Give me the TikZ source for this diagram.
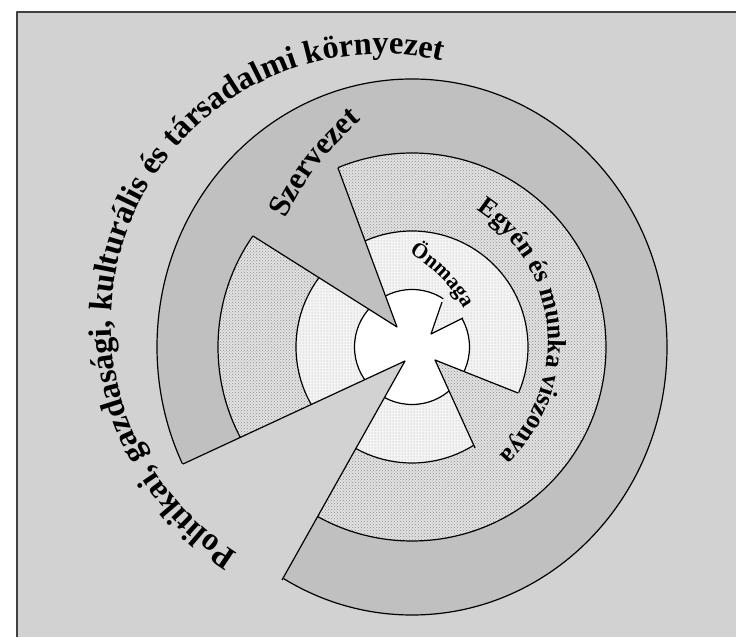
\documentclass[tikz,border=0pt]{standalone}
\usepackage{fontspec}
\setmainfont{Liberation Serif}
\usepackage{xcolor}
\definecolor{bgdots}{HTML}{D2D2D2}
\definecolor{outring}{HTML}{C0C0C0}
\definecolor{midring}{HTML}{E2E2E2}
\definecolor{middots}{HTML}{8C8C8C}
\definecolor{inring}{HTML}{F4F4F4}
\definecolor{indots}{HTML}{A8A8A8}
\definecolor{frameline}{HTML}{404040}
\usepackage{tikz}
\usetikzlibrary{decorations.text,patterns}

\begin{document}
\begin{tikzpicture}[x=1pt,y=1pt,line width=1.2pt,line join=round]
    \tikzstyle{rim}=[draw=black]
    \tikzstyle{midfill}=[preaction={fill=midring},pattern=crosshatch dots,pattern color=middots]
    \tikzstyle{infill}=[preaction={fill=inring},pattern=dots,pattern color=indots]
    \tikzstyle{bigtext}=[decorate,decoration={text along path,text color=black}]

    \useasboundingbox (0,0) rectangle (736,637);
    \fill[white] (0,0) rectangle (736,637);
    \fill[bgdots] (17,0) rectangle (736,625);
    \draw[frameline,line width=2pt] (17,0) -- (17,625) -- (736,625);

    \coordinate (O) at (412,290);
    \filldraw[fill=outring,rim] (O) ellipse [x radius=255,y radius=268];
    \path[midfill,rim] (O) circle [radius=194];
    \path[infill,rim] (O) circle [radius=116];
    \filldraw[fill=white,rim] (O) circle [radius=57.5];

    \coordinate (tipA) at (397,310);
    \coordinate (a1) at (338,469);
    \coordinate (a2) at (253,401);
    \coordinate (tipB) at (405,276);
    \coordinate (b1) at (183,173);
    \coordinate (b2) at (282,57);
    \coordinate (tipC) at (431,303);
    \coordinate (c1) at (463,319);
    \coordinate (c2) at (442,335);
    \coordinate (tipD) at (435,277);
    \coordinate (d1) at (518,244);
    \coordinate (d2) at (475,189);

    \fill[outring] (tipA) -- (332,485) -- (239,410) -- cycle;
    \fill[bgdots] (tipB) -- (150,158) -- (264,24) -- cycle;
    \path[infill] (tipC) -- (482,329) -- (449,354) -- cycle;
    \path[midfill] (tipD) -- (532,239) -- (483,171) -- cycle;

    \draw (a1) -- (tipA) -- (a2);
    \draw (b1) -- (tipB) -- (b2);
    \draw (c1) -- (tipC) -- (c2);
    \draw (d1) -- (tipD) -- (d2);

    \path[bigtext,decoration={text={|\bfseries\fontsize{32.5}{33}\selectfont|Politikai, gazdasági, kulturális és társadalmi környezet}}]
        (381,313) ++(238:270) arc [start angle=238,end angle=68,radius=270];
    \path[bigtext,decoration={text={|\bfseries\fontsize{31}{31}\selectfont|Szervezet}}]
        (286,418) to[bend left=12] (370,524);
    \path[bigtext,decoration={text={|\bfseries\fontsize{26}{26}\selectfont|Egyén és munka viszonya}}]
        (391,295) ++(57.2:157) arc [start angle=57.2,end angle=-56,radius=157];
    \path[bigtext,decoration={text={|\bfseries\fontsize{21.5}{22}\selectfont|Önmaga}}]
        (409,384) to[bend left=15] (470,318);
\end{tikzpicture}
\end{document}
